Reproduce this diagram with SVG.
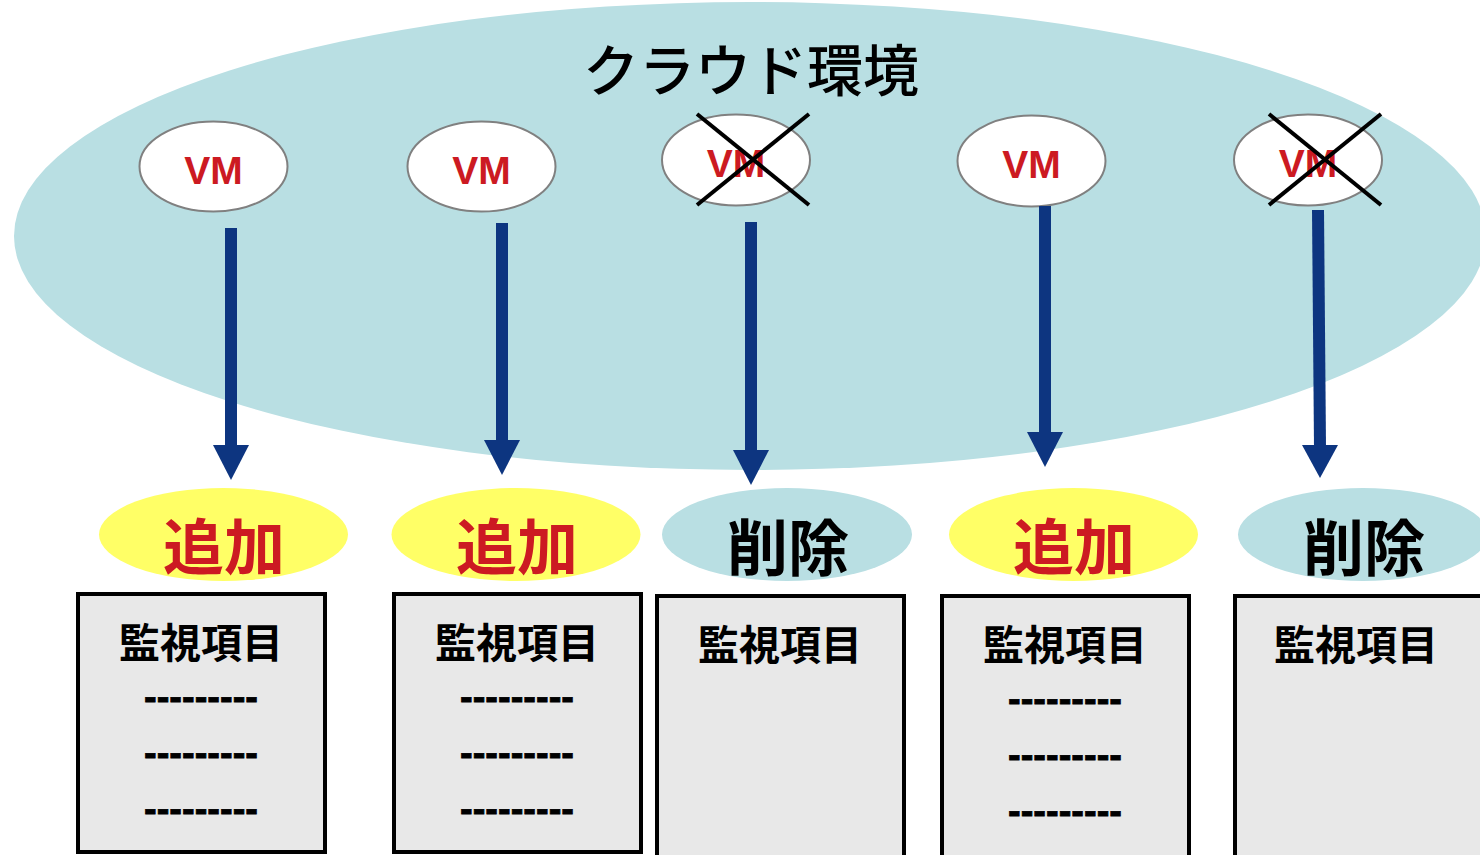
<svg xmlns="http://www.w3.org/2000/svg" width="1480" height="855" viewBox="0 0 1480 855">
<style>
.vm{fill:#fff;stroke:#808080;stroke-width:2}
.vmt{font-family:"Liberation Sans",Arial,sans-serif;font-weight:bold;font-size:39px;fill:#cc1a22;text-anchor:middle}
.x{stroke:#000;stroke-width:4}
.add{fill:#ffff66}
.del{fill:#b9dfe3}
.addt{font-family:"Noto Sans CJK JP","Noto Sans CJK SC",sans-serif;font-weight:bold;font-size:61px;fill:#cc1a22;text-anchor:middle}
.delt{font-family:"Noto Sans CJK JP","Noto Sans CJK SC",sans-serif;font-weight:bold;font-size:61px;fill:#000;text-anchor:middle}
.box{fill:#e8e8e8;stroke:#000;stroke-width:4}
.bt{font-family:"Noto Sans CJK JP","Noto Sans CJK SC",sans-serif;font-weight:bold;font-size:41px;fill:#000;text-anchor:middle}
.dash{font-family:"Liberation Sans",Arial,sans-serif;font-weight:bold;font-size:38px;fill:#000;text-anchor:middle;stroke:#000;stroke-width:0.8}
.arr{stroke:#0d3580;stroke-width:12;fill:none}
.head{fill:#0d3580}
</style>
<rect width="1480" height="855" fill="#fff"/>
<g id="cloud">
<ellipse cx="750" cy="236" rx="736" ry="234" fill="#b9dfe3"/>
<text x="751" y="91" font-family="'Noto Sans CJK JP','Noto Sans CJK SC',sans-serif" font-size="56" font-weight="500" fill="#000" text-anchor="middle">クラウド環境</text>
</g>
<g id="vm1"><ellipse class="vm" cx="213.5" cy="166.5" rx="74" ry="45"/><text class="vmt" x="213.5" y="184">VM</text></g>
<g id="vm2"><ellipse class="vm" cx="481.5" cy="166.5" rx="74" ry="45"/><text class="vmt" x="481.5" y="184">VM</text></g>
<g id="vm3"><ellipse class="vm" cx="736" cy="160" rx="74" ry="45.5"/><text class="vmt" x="736" y="177">VM</text><line class="x" x1="697" y1="114" x2="809" y2="205"/><line class="x" x1="809" y1="114" x2="697" y2="205"/></g>
<g id="vm4"><ellipse class="vm" cx="1031.5" cy="161" rx="74" ry="45.5"/><text class="vmt" x="1031.5" y="178">VM</text></g>
<g id="vm5"><ellipse class="vm" cx="1308" cy="160" rx="74" ry="45.5"/><text class="vmt" x="1308" y="177">VM</text><line class="x" x1="1269" y1="114" x2="1381" y2="205"/><line class="x" x1="1381" y1="114" x2="1269" y2="205"/></g>
<g id="connectors">
<line class="arr" x1="231" y1="228" x2="231" y2="447"/><polygon class="head" points="213,445 249,445 231,480"/>
<line class="arr" x1="502" y1="223" x2="502" y2="442"/><polygon class="head" points="484,440 520,440 502,475"/>
<line class="arr" x1="751" y1="222" x2="751" y2="452"/><polygon class="head" points="733,450 769,450 751,485"/>
<line class="arr" x1="1045" y1="206" x2="1045" y2="434"/><polygon class="head" points="1027,432 1063,432 1045,467"/>
<line class="arr" x1="1318" y1="210" x2="1320" y2="447"/><polygon class="head" points="1302,445 1338,445 1320,478"/>
</g>
<g id="s1"><ellipse class="add" cx="223.5" cy="534.5" rx="124.5" ry="46.5"/><text class="addt" x="224" y="570">追加</text></g>
<g id="s2"><ellipse class="add" cx="516" cy="534.5" rx="124.5" ry="46.5"/><text class="addt" x="517" y="570">追加</text></g>
<g id="s3"><ellipse class="del" cx="787" cy="534.5" rx="125" ry="46.5"/><text class="delt" x="788" y="571">削除</text></g>
<g id="s4"><ellipse class="add" cx="1073.5" cy="534.5" rx="124.5" ry="46.5"/><text class="addt" x="1074" y="570">追加</text></g>
<g id="s5"><ellipse class="del" cx="1363" cy="534.5" rx="125" ry="46.5"/><text class="delt" x="1364" y="571">削除</text></g>
<g id="b1"><rect class="box" x="78" y="594" width="247" height="258"/><text class="bt" x="201" y="658">監視項目</text><text class="dash" x="201" y="710">---------</text><text class="dash" x="201" y="766">---------</text><text class="dash" x="201" y="822">---------</text></g>
<g id="b2"><rect class="box" x="394" y="594" width="247" height="258"/><text class="bt" x="517" y="658">監視項目</text><text class="dash" x="517" y="710">---------</text><text class="dash" x="517" y="766">---------</text><text class="dash" x="517" y="822">---------</text></g>
<g id="b3"><rect class="box" x="657" y="596" width="247" height="262"/><text class="bt" x="780" y="660">監視項目</text></g>
<g id="b4"><rect class="box" x="942" y="596" width="247" height="262"/><text class="bt" x="1065" y="660">監視項目</text><text class="dash" x="1065" y="712">---------</text><text class="dash" x="1065" y="768">---------</text><text class="dash" x="1065" y="824">---------</text></g>
<g id="b5"><rect class="box" x="1235" y="596" width="260" height="262"/><text class="bt" x="1356" y="660">監視項目</text></g>
</svg>
